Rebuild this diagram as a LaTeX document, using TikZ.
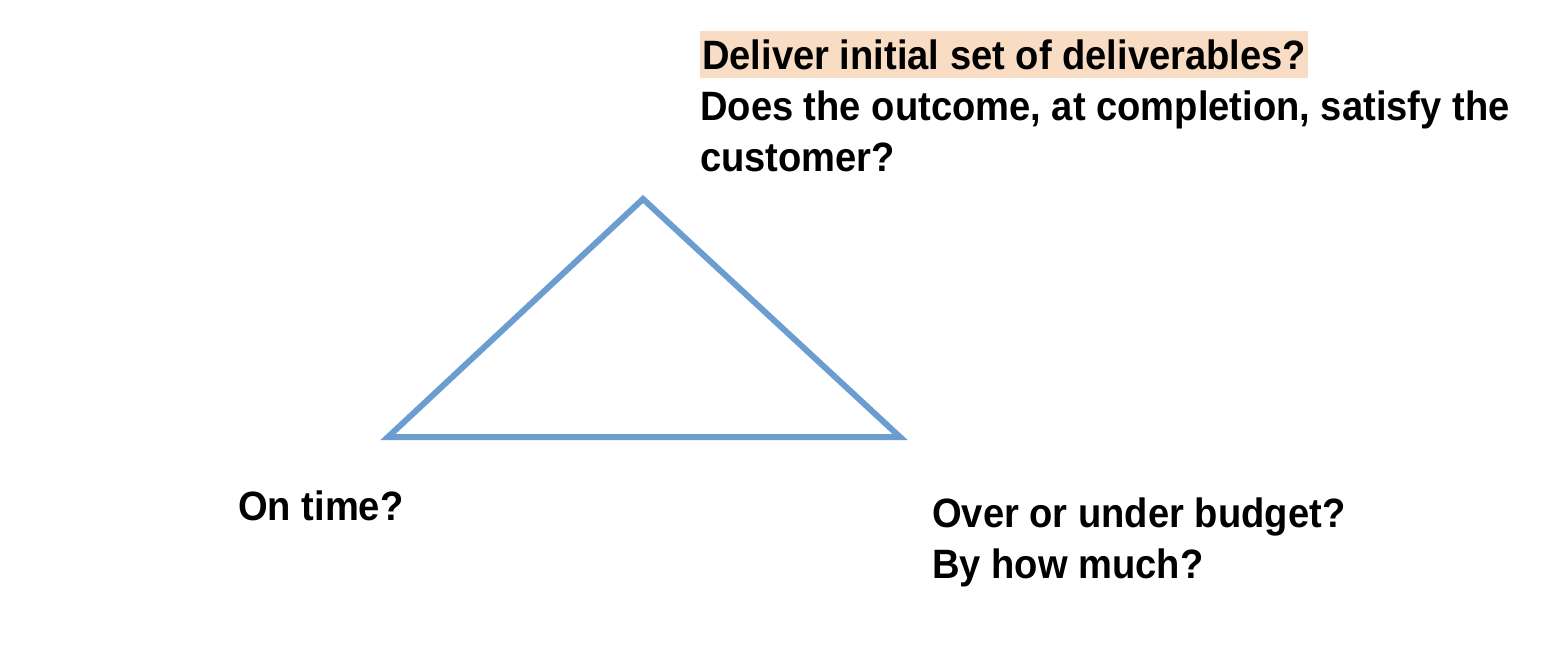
\documentclass[tikz,border=0pt]{standalone}
\usepackage{fontspec}
\usepackage{tikz}
\usetikzlibrary{positioning}
\newfontfamily\lab[FakeStretch=0.93]{Liberation Sans}
\definecolor{triblue}{RGB}{108,157,209}
\definecolor{hilite}{RGB}{248,220,195}
\tikzset{
  txt/.style={anchor=base west, inner sep=0pt, font=\lab\bfseries\fontsize{41}{51}\selectfont, align=left},
  tri/.style={draw=triblue, line width=6pt, line join=miter}
}

\begin{document}
\begin{tikzpicture}[x=1pt,y=1pt]
\useasboundingbox (0,0) rectangle (1566,654);
\coordinate (A) at (388,217);
\coordinate (B) at (900,217);
\coordinate (C) at (643,455);
\draw[tri] (A) -- (B) -- (C) -- cycle;
\node[txt, fill=hilite, inner xsep=2pt, inner ysep=2pt, text height=37pt, text depth=6pt] (Q1) at (700,584) {Deliver initial set of deliverables?};
\node[txt] (Q2) at (700,482) {Does the outcome, at completion, satisfy the\\customer?};
\node[txt] (T) at (238,134) {On time?};
\node[txt] (M) at (932,76) {Over or under budget?\\By how much?};
\end{tikzpicture}
\end{document}
